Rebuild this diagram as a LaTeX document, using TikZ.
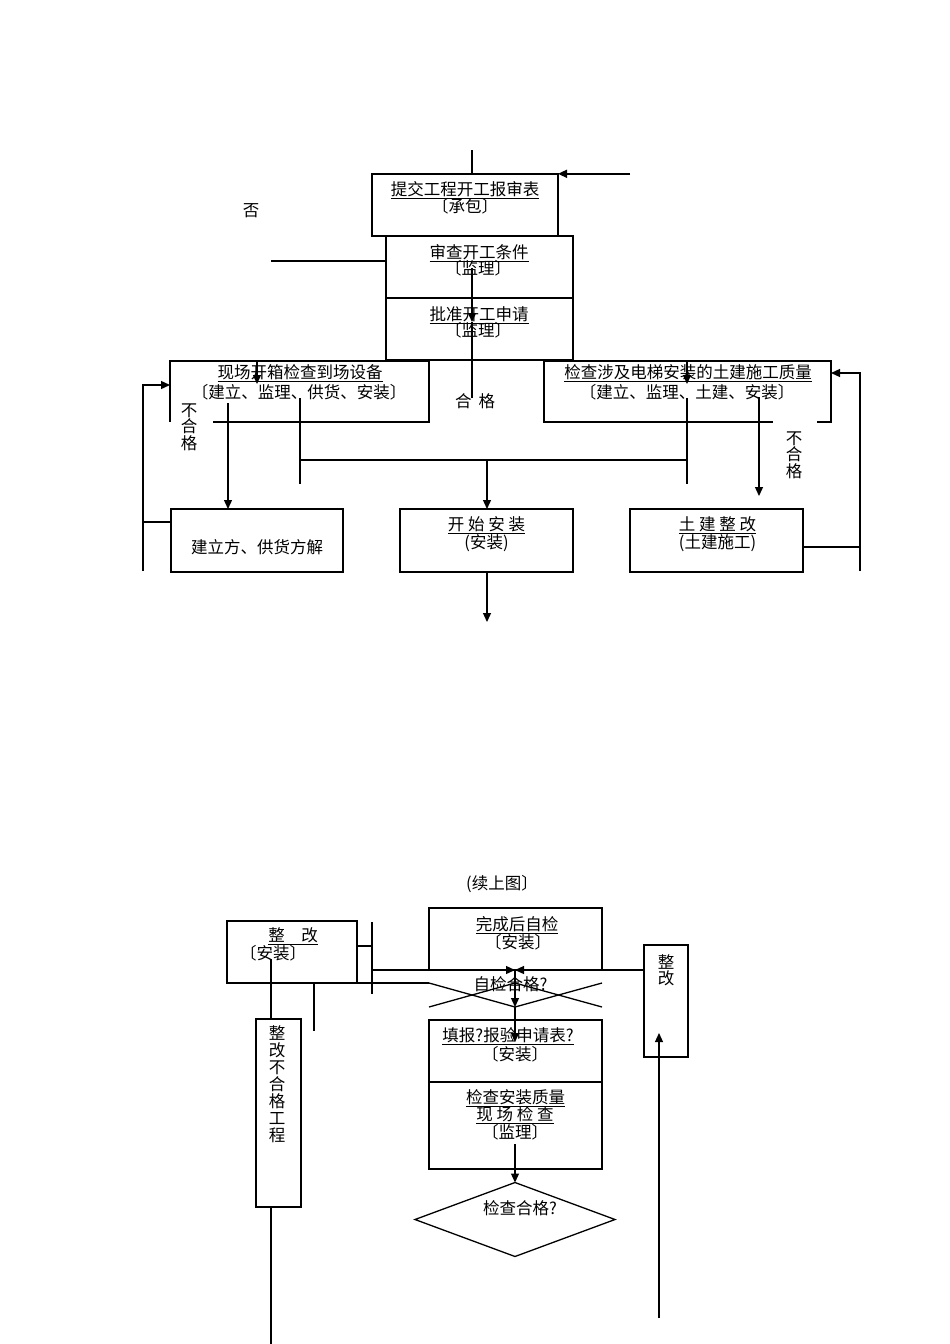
\documentclass[tikz,border=0pt]{standalone}
\usepackage{fontspec}
\newfontfamily\cjk{Noto Sans CJK SC}
\usetikzlibrary{arrows.meta,shapes.geometric,fit}
\begin{document}
\begin{tikzpicture}[x=1pt,y=-1pt,line width=1.3pt,
  box/.style={draw,inner sep=0pt,outer sep=0pt},
  frame/.style={inner sep=0pt,outer sep=0pt},
  t/.style={font=\cjk\fontsize{16.5pt}{16.5pt}\selectfont,inner sep=0pt,align=center},
  arr/.style={-{Triangle[length=9pt,width=8pt]}}]
\path[use as bounding box,fill=white] (0,0) rectangle (950,1344);

% ---------- upper chart ----------
\node[box,fit={(372,174) (558,236)}] (b1) {};
\node[t] (b1a) at (465,190) {\underline{提交工程开工报审表}};
\node[t] (b1b) at (465,206) {〔承包〕};
\coordinate (t0) at (472,150);
\draw (t0) -- (t0 |- b1.north);
\coordinate (r0) at (630,173.8);
\draw[arr,line width=1.5pt] (r0) -- (r0 -| b1.east);
\node[t] (no) at (251,211) {否};

\node[box,fit={(386,236) (573,298)}] (b2) {};
\node[t] (b2a) at (479,253) {\underline{审查开工条件}};
\node[t] (b2b) at (478,268) {〔监理〕};
\coordinate (l0) at (271,261);
\draw (l0) -- (l0 -| b2.west);

\node[box,fit={(386,298) (573,360)}] (b3) {};
\node[t] (b3a) at (479,315) {\underline{批准开工申请}};
\node[t] (b3b) at (478,330) {〔监理〕};

\coordinate (c1) at (472,268);
\coordinate (c2) at (472,322);
\coordinate (c3) at (472,398);
\draw[arr] (c1) -- (c2);
\draw (c2) -- (c3);
\node[t] (ok) at (475,401) {合\hspace{7pt}格};

% left open box
\node[frame,fit={(170,361) (429,422)}] (b4) {};
\draw ([xshift=43pt]b4.south west) -- (b4.south east) -- (b4.north east) -- (b4.north west) -- (b4.south west);
\node[t] (b4a) at (300,373) {\underline{现场开箱检查到场设备}};
\node[t] (b4b) at (299,392) {〔建立、监理、供货、安装〕};

% right open box
\node[frame,fit={(544,361) (831,422)}] (b5) {};
\draw ([xshift=229pt]b5.south west) -- (b5.south west) -- (b5.north west) -- (b5.north east) -- (b5.south east) -- ([xshift=-14pt]b5.south east);
\node[t] (b5a) at (688,373) {\underline{检查涉及电梯安装的土建施工质量}};
\node[t] (b5b) at (687,392) {〔建立、监理、土建、安装〕};

\node[t] (ng1) at (189,427) {不\\合\\格};
\node[t] (ng2) at (794,455) {不\\合\\格};

% lower row of upper chart
\node[box,fit={(171,509) (343,572)}] (b6) {};
\node[t] (b6a) at (257,547) {建立方、供货方解};
\node[box,fit={(400,509) (573,572)}] (b7) {};
\node[t] (b7a) at (486.5,525) {\underline{开 始 安 装}};
\node[t] (b7b) at (486.5,543) {(安装)};
\node[box,fit={(630,509) (803,572)}] (b8) {};
\node[t] (b8a) at (717.5,525) {\underline{土 建 整 改}};
\node[t] (b8b) at (717.5,543) {(土建施工)};

% connectors
\coordinate (a1) at (257,361);
\coordinate (a1e) at (257,384);
\draw[arr] (a1) -- (a1e);
\coordinate (a2) at (687,361);
\coordinate (a2e) at (687,384);
\draw[arr] (a2) -- (a2e);
\coordinate (v1a) at (687,398);
\coordinate (v1b) at (687,484);
\draw (v1a) -- (v1b);
\coordinate (v2a) at (300,398);
\coordinate (v2b) at (300,484);
\draw (v2a) -- (v2b);
\coordinate (h1a) at (300,460);
\coordinate (h1b) at (687,460);
\draw (h1a) -- (h1b);
\coordinate (v3) at (487,460);
\draw[arr] (v3) -- (v3 |- b7.north);
\coordinate (v4) at (228,403);
\draw[arr] (v4) -- (v4 |- b6.north);
\coordinate (v5a) at (759,397);
\coordinate (v5b) at (759,496);
\draw[arr] (v5a) -- (v5b);
\coordinate (lp0) at (143,571);
\coordinate (lp1) at (143,385);
\draw[arr] (lp0) -- (lp1) -- (lp1 -| b4.west);
\coordinate (lp2) at (143,522);
\draw (lp2) -- (lp2 -| b6.west);
\coordinate (rp0) at (860,571);
\coordinate (rp1) at (860,373);
\draw[arr] (rp0) -- (rp1) -- (rp1 -| b5.east);
\coordinate (rp2) at (860,547);
\draw (rp2 -| b8.east) -- (rp2);
\coordinate (out1) at (487,622);
\draw[arr] (out1 |- b7.south) -- (out1);

% ---------- lower chart ----------
\node[t] (cont) at (502,884) {(续上图〕};

\node[box,fit={(227,921) (357,983)}] (b9) {};
\node[t] (b9a) at (293,936) {\underline{整　改}};
\node[t] (b9b) at (273,953) {〔安装〕};

\node[box,fit={(256,1019) (301,1207)}] (b10) {};
\node[t,font=\cjk\fontsize{16.5pt}{17pt}\selectfont] (b10a) at (277,1084) {整\\改\\不\\合\\格\\工\\程};

\node[box,fit={(429,908) (602,970)}] (b11) {};
\node[t] (b11a) at (517,925) {\underline{完成后自检}};
\node[t] (b11b) at (518,942) {〔安装〕};

\node[box,fit={(644,945) (688,1057)}] (b12) {};
\node[t] (b12a) at (666,970) {整\\改};

\node[box,fit={(429,1020) (602,1082)}] (b13) {};
\node[t] (b13a) at (508,1036) {\underline{填报?报验申请表?}};
\node[t] (b13b) at (515,1054) {〔安装〕};

\node[box,fit={(429,1082) (602,1169)}] (b14) {};
\node[t] (b14a) at (515.5,1098) {\underline{检查安装质量}};
\node[t] (b14b) at (515,1115) {\underline{现 场 检 查}};
\node[t] (b14c) at (515,1132) {〔监理〕};

\node[draw,diamond,minimum width=200pt,minimum height=74pt,inner sep=0pt,outer sep=0pt] (d2) at (515,1219.5) {};
\node[t] (d2a) at (520,1208) {检查合格?};

% self-check decision (crossed shape)
\coordinate (x1) at (429,983);
\coordinate (x2) at (515,1007);
\coordinate (x3) at (602,983);
\coordinate (x4) at (429,1007);
\coordinate (x5) at (515,983);
\coordinate (x6) at (602,1007);
\draw (x1) -- (x2) -- (x3);
\draw (x4) -- (x5) -- (x6);
\node[t] (d1a) at (510.5,984) {自检合格?};

% lower connectors
\coordinate (m0) at (515,970);
\coordinate (m1) at (515,1042);
\draw[arr] (m0) -- (x2);
\draw[arr] (x2) -- (m1);
\coordinate (s0) at (372,922);
\coordinate (s1) at (372,994);
\draw (s0) -- (s1);
\coordinate (s2) at (372,946);
\draw (s2 -| b9.east) -- (s2);
\coordinate (s3) at (372,970);
\draw[arr] (s3) -- (m0);
\draw[arr] (m0 -| b12.west) -- (m0);
\draw (b9.south east) -- (x1);
\coordinate (s4) at (314,983);
\coordinate (s5) at (314,1031);
\draw (s4) -- (s5);
\coordinate (k0) at (271,959);
\draw (k0) -- (k0 |- b10.north);
\coordinate (k1) at (271,1344);
\draw (k1 |- b10.south) -- (k1);
\coordinate (q0) at (515,1144);
\draw[arr] (q0) -- (d2.north);
\coordinate (u0) at (659,1318);
\coordinate (u1) at (659,1033);
\draw[arr] (u0) -- (u1);
\end{tikzpicture}
\end{document}
